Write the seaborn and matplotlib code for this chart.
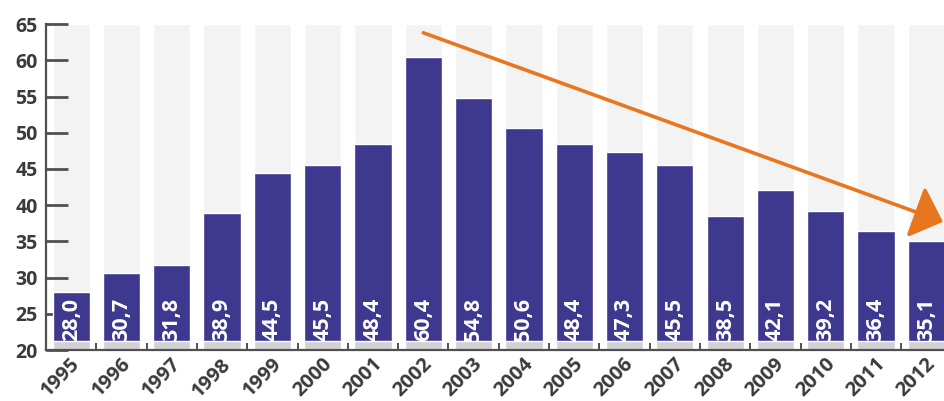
import matplotlib
matplotlib.use("Agg")
import matplotlib.pyplot as plt
from matplotlib.ticker import FixedLocator
import seaborn as sns
import pandas as pd

years = ["1995", "1996", "1997", "1998", "1999", "2000", "2001", "2002", "2003",
         "2004", "2005", "2006", "2007", "2008", "2009", "2010", "2011", "2012"]
values = [28.0, 30.7, 31.8, 38.9, 44.5, 45.5, 48.4, 60.4, 54.8,
          50.6, 48.4, 47.3, 45.5, 38.5, 42.1, 39.2, 36.4, 35.1]
y_ticks = [20, 25, 30, 35, 40, 45, 50, 55, 60, 65]

# trend arrow: from the 2002 peak down past the last year
trend_start = (7, 63.8)
trend_end = (17.33, 37.7)

sns.set_theme(style="white")
plt.rcParams["font.family"] = ["Open Sans", "DejaVu Sans"]

BAR = "#3e388f"
COLUMN = "#f3f3f3"
SHADOW = "#d2d2d2"
AXIS = "#505050"
TEXT = "#3a3a3a"
ORANGE = "#e8761e"

df = pd.DataFrame({"year": years, "value": values})
df["top"] = y_ticks[-1]
df["shadow"] = 21.2

fig = plt.figure(figsize=(9.45, 4.01), dpi=100)
ax = fig.add_axes([0.0487, 0.127, 0.9513, 0.813])

width = 0.74
# light full-height columns behind each bar, then the bars, then a soft base strip
sns.barplot(data=df, x="year", y="top", color=COLUMN, width=width,
            saturation=1, ax=ax, zorder=1)
sns.barplot(data=df, x="year", y="value", color=BAR, width=width,
            saturation=1, ax=ax, zorder=3)
sns.barplot(data=df, x="year", y="shadow", color=SHADOW, width=width,
            saturation=1, ax=ax, zorder=3.2)

ax.set_ylim(y_ticks[0], y_ticks[-1])
ax.set_xlim(-0.5, 17.37)
# tick marks sit above the light columns but under the bars
ax.set_axisbelow(False)

# value labels written upward inside each bar
for i, v in enumerate(values):
    ax.text(i, 21.3, f"{v:.1f}".replace(".", ","), rotation=90,
            ha="center", va="bottom", color="white", fontsize=15.5,
            fontweight="bold", zorder=5)

ax.set_yticks(y_ticks)
ax.set_yticklabels([str(t) for t in y_ticks], fontweight="bold")
ax.tick_params(axis="y", direction="in", length=16, width=2, color=AXIS,
               labelsize=14, labelcolor=TEXT, pad=6, left=True)

ax.xaxis.set_minor_locator(FixedLocator([i + 0.5 for i in range(len(years) - 1)]))
ax.tick_params(axis="x", which="minor", direction="in", length=5, width=1.4,
               color=AXIS, bottom=True)
ax.tick_params(axis="x", which="major", length=0, labelsize=14.5,
               labelcolor=TEXT, pad=3)
ax.set_xticks(range(len(years)))
ax.set_xticklabels(years, rotation=45, ha="right", rotation_mode="anchor",
                   fontweight="bold")
for lab in ax.get_xticklabels():
    lab.set_transform(lab.get_transform() +
                      matplotlib.transforms.ScaledTranslation(-0.01, 0, fig.dpi_scale_trans))

ax.set_xlabel("")
ax.set_ylabel("")
for side in ["top", "right"]:
    ax.spines[side].set_visible(False)
for side in ["left", "bottom"]:
    ax.spines[side].set_color(AXIS)
    ax.spines[side].set_linewidth(1.6)
    ax.spines[side].set_zorder(4)

ax.annotate("", xy=trend_end, xytext=trend_start,
            arrowprops=dict(arrowstyle="-|>,head_length=1.5,head_width=1.4",
                            color=ORANGE, lw=2.6, shrinkA=0, shrinkB=0),
            annotation_clip=False, zorder=6)

fig.savefig("out.png", dpi=100)
